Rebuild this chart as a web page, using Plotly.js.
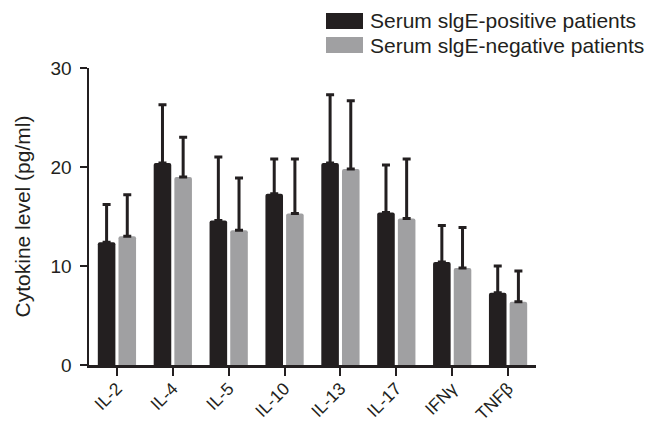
<!DOCTYPE html>
<html>
<head>
<meta charset="utf-8">
<script src="https://cdn.plot.ly/plotly-3.0.1.min.js"></script>
<style>html,body{margin:0;padding:0;background:#fff;}#chart{width:651px;height:423px;}</style>
</head>
<body>
<div id="chart"></div>
<script>
// ---- data ----
var categories = ['IL-2', 'IL-4', 'IL-5', 'IL-10', 'IL-13', 'IL-17', 'IFNγ', 'TNFβ'];
var seriesNames = ['Serum slgE-positive patients', 'Serum slgE-negative patients'];
var positiveMean = [12.4, 20.4, 14.6, 17.3, 20.4, 15.4, 10.4, 7.3];
var positiveUpper = [16.2, 26.3, 21.0, 20.8, 27.3, 20.2, 14.1, 10.0];
var negativeMean = [13.0, 19.0, 13.6, 15.3, 19.8, 14.8, 9.8, 6.4];
var negativeUpper = [17.2, 23.0, 18.9, 20.8, 26.7, 20.8, 13.9, 9.5];
var yTicks = [0, 10, 20, 30];

// ---- styling ----
var dark = '#231f20';
var grey = '#a0a0a2';
var fontFamily = '"Liberation Sans", Arial, Helvetica, sans-serif';

function errs(mean, upper) { return upper.map(function (u, i) { return u - mean[i]; }); }
function zeros(a) { return a.map(function () { return 0; }); }

var traces = [
  {
    type: 'bar', name: seriesNames[0], x: categories, y: positiveMean,
    marker: { color: dark, cornerradius: 2 },
    error_y: { type: 'data', symmetric: false, array: errs(positiveMean, positiveUpper),
      arrayminus: zeros(positiveMean), color: dark, thickness: 3, width: 4 },
    showlegend: false
  },
  {
    type: 'bar', name: seriesNames[1], x: categories, y: negativeMean,
    marker: { color: grey, cornerradius: 2 },
    error_y: { type: 'data', symmetric: false, array: errs(negativeMean, negativeUpper),
      arrayminus: zeros(negativeMean), color: dark, thickness: 3, width: 4 },
    showlegend: false
  }
];

// legend drawn as layout decoration (pixel -> paper conversion)
var L = 89, R = 536, T = 68, B = 365;
function px(x) { return (x - L) / (R - L); }
function py(y) { return (B - y) / (B - T); }
var legendColors = [dark, grey];
var legendRows = [21, 45];
var shapes = [], annotations = [];
seriesNames.forEach(function (n, i) {
  var cy = legendRows[i];
  shapes.push({ type: 'rect', xref: 'paper', yref: 'paper',
    x0: px(326), x1: px(363), y0: py(cy - 8), y1: py(cy + 8),
    fillcolor: legendColors[i], line: { width: 0 } });
  annotations.push({ xref: 'paper', yref: 'paper', x: px(368), y: py(cy),
    xanchor: 'left', yanchor: 'middle', showarrow: false, text: n,
    font: { family: fontFamily, size: 21, color: dark } });
});

var layout = {
  width: 651, height: 423,
  margin: { l: L, r: 651 - R, t: T, b: 423 - B, pad: 0 },
  paper_bgcolor: '#ffffff', plot_bgcolor: '#ffffff',
  barmode: 'group', bargap: 0.26, bargroupgap: 0.15,
  font: { family: fontFamily, color: dark },
  showlegend: false,
  xaxis: {
    type: 'category', range: [-0.5, 7.5], tickangle: -45,
    showline: true, linecolor: dark, linewidth: 2.5,
    ticks: 'outside', ticklen: 8, tickwidth: 2, tickcolor: dark,
    showgrid: false, zeroline: false, ticklabelstandoff: -4,
    tickfont: { family: fontFamily, size: 17.5, color: dark }
  },
  yaxis: {
    range: [0, 30], tickvals: yTicks, ticktext: yTicks.map(String),
    showline: true, linecolor: dark, linewidth: 2.5,
    ticks: 'outside', ticklen: 7, tickwidth: 2, tickcolor: dark,
    showgrid: false, zeroline: false, ticklabelstandoff: 4,
    tickfont: { family: fontFamily, size: 19, color: dark },
    title: { text: 'Cytokine level (pg/ml)', standoff: 14,
      font: { family: fontFamily, size: 21, color: dark } }
  },
  shapes: shapes,
  annotations: annotations
};

Plotly.newPlot('chart', traces, layout, { displayModeBar: false, staticPlot: true });
</script>
</body>
</html>
